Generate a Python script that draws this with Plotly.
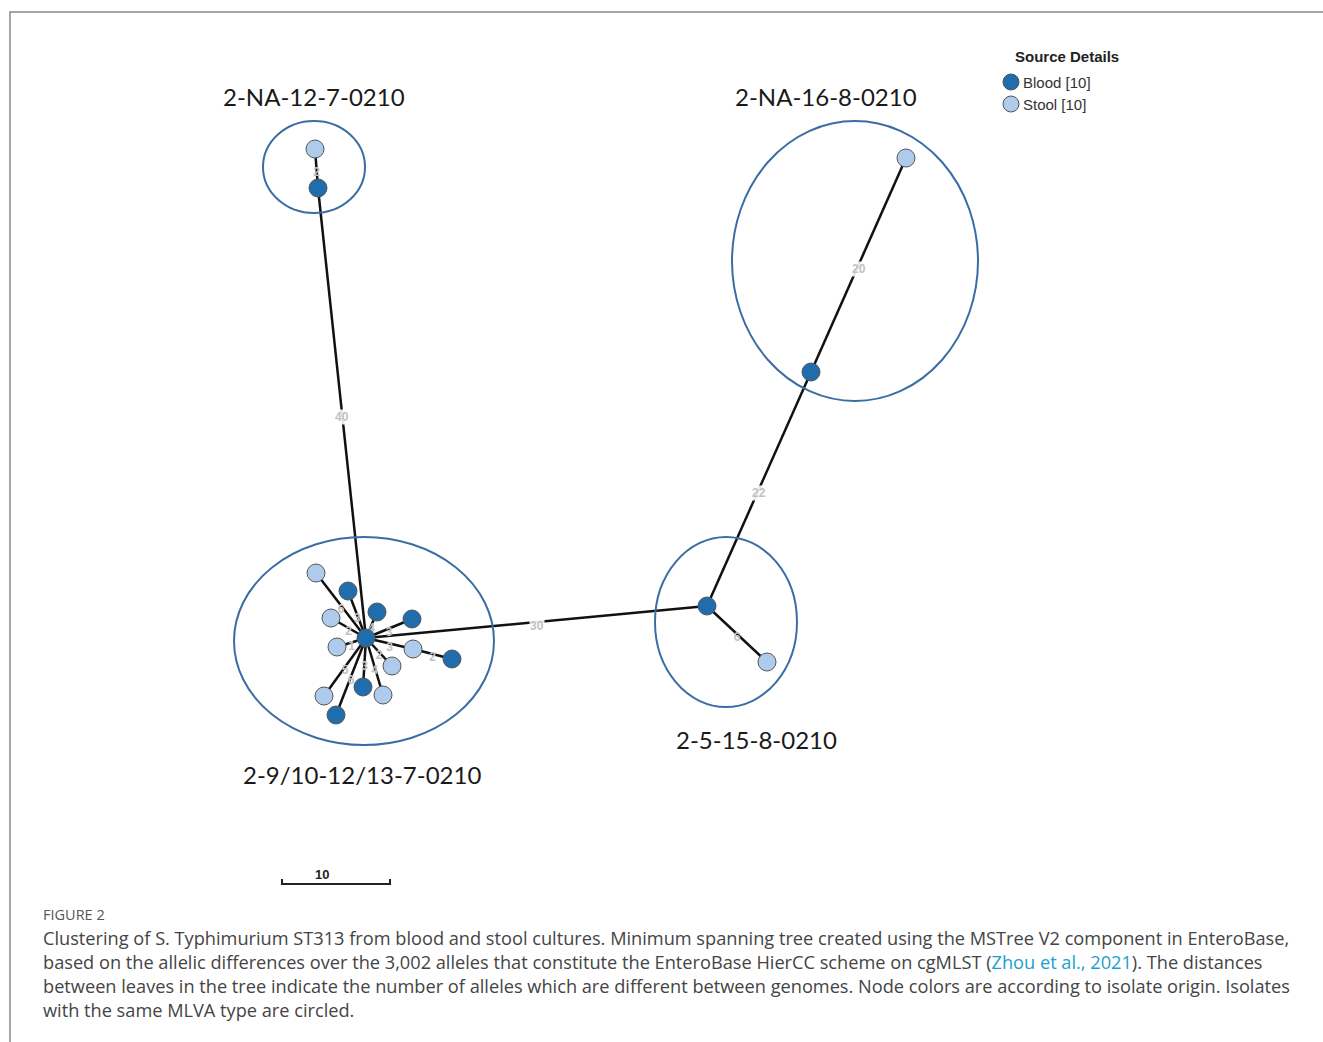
import plotly.graph_objects as go

# ---- data ----
node_x = [366, 316, 348, 331, 377, 412, 337, 413, 452, 392, 363, 383, 324, 336,
          318, 315, 811, 906, 707, 767]
node_y = [638, 573, 591, 618, 612, 619, 647, 649, 659, 666, 687, 695, 696, 715,
          188, 149, 372, 158, 606, 662]
node_src = ["Blood", "Stool", "Blood", "Stool", "Blood", "Blood", "Stool", "Stool", "Blood", "Stool",
            "Blood", "Stool", "Stool", "Blood",
            "Blood", "Stool", "Blood", "Stool", "Blood", "Stool"]
edge_from = [0, 0, 0, 0, 0, 0, 0, 7, 0, 0, 0, 0, 0, 14, 0, 16, 18, 18, 0]
edge_to = [1, 2, 3, 4, 5, 6, 7, 8, 9, 10, 11, 12, 13, 15, 14, 17, 16, 19, 18]
edge_w = [6, 3, 2, 4, 3, 1, 3, 2, 2, 3, 4, 5, 6, 2, 40, 20, 22, 6, 30]

cluster_names = ["2-NA-12-7-0210", "2-NA-16-8-0210", "2-9/10-12/13-7-0210", "2-5-15-8-0210"]
cluster_box = [(263, 121, 365, 213), (732, 121, 978, 401), (234, 537, 494, 745), (655, 537, 797, 707)]
cluster_label_xy = [(314, 96), (826, 96), (362, 774), (756, 739)]

sources = ["Blood", "Stool"]
colors = {"Blood": "#1f6dac", "Stool": "#afcbeb"}

caption_lines = [
    "Clustering of S. Typhimurium ST313 from blood and stool cultures. Minimum spanning tree created using the MSTree V2 component in EnteroBase,",
    "based on the allelic differences over the 3,002 alleles that constitute the EnteroBase HierCC scheme on cgMLST (<span style='color:#1a9fd0'>Zhou et al., 2021</span>). The distances",
    "between leaves in the tree indicate the number of alleles which are different between genomes. Node colors are according to isolate origin. Isolates",
    "with the same MLVA type are circled.",
]

fig = go.Figure()

# edges
ex, ey = [], []
for a, b in zip(edge_from, edge_to):
    ex += [node_x[a], node_x[b], None]
    ey += [node_y[a], node_y[b], None]
fig.add_trace(go.Scatter(x=ex, y=ey, mode="lines", line=dict(color="#111", width=2.5),
                         hoverinfo="skip", showlegend=False))

# edge labels: short edges as text trace (under nodes), long edges with white background
sx, sy, st = [], [], []
for a, b, w in zip(edge_from, edge_to, edge_w):
    mx = (node_x[a] + node_x[b]) / 2
    my = (node_y[a] + node_y[b]) / 2 + 4
    if w >= 10:
        fig.add_annotation(x=mx, y=my, text=f"<b>{w}</b>", showarrow=False,
                           font=dict(family="Liberation Sans", size=12, color="#c2c2c2"),
                           bgcolor="rgba(255,255,255,0.9)", borderpad=0)
    else:
        sx.append(mx); sy.append(my); st.append(f"<b>{w}</b>")
fig.add_trace(go.Scatter(x=sx, y=sy, text=st, mode="text", textposition="middle center",
                         textfont=dict(family="Liberation Sans", size=12, color="#c2c2c2"),
                         hoverinfo="skip", showlegend=False))

# nodes
for s in sources:
    idx = [i for i, v in enumerate(node_src) if v == s]
    fig.add_trace(go.Scatter(x=[node_x[i] for i in idx], y=[node_y[i] for i in idx], mode="markers",
                             marker=dict(size=18, color=colors[s], line=dict(color="#555", width=1)),
                             showlegend=False, hoverinfo="skip"))

# cluster ellipses and labels
for (x0, y0, x1, y1), name, (lx, ly) in zip(cluster_box, cluster_names, cluster_label_xy):
    fig.add_shape(type="circle", x0=x0, y0=y0, x1=x1, y1=y1, xref="x", yref="y",
                  line=dict(color="#3a6da3", width=2))
    fig.add_annotation(x=lx, y=ly, text=name, showarrow=False,
                       font=dict(family="Lato", size=24, color="#1a1a1a"))

# legend (manual)
fig.add_annotation(x=1067, y=56, text="<b>Source Details</b>", showarrow=False,
                   font=dict(family="Liberation Sans", size=15, color="#222"))
leg_y = [82, 104]
fig.add_trace(go.Scatter(x=[1011, 1011], y=leg_y, mode="markers",
                         marker=dict(size=16, color=[colors[s] for s in sources], line=dict(color="#555", width=1)),
                         showlegend=False, hoverinfo="skip"))
for s, yy in zip(sources, leg_y):
    n = node_src.count(s)
    fig.add_annotation(x=1021, y=yy, text=f"{s} [{n}]", showarrow=False, xanchor="left",
                       font=dict(family="Liberation Sans", size=15, color="#333"))

# scale bar
fig.add_shape(type="path", path="M 282 879 L 282 884 L 390 884 L 390 879", line=dict(color="#222", width=2))
fig.add_annotation(x=322, y=874, text="<b>10</b>", showarrow=False,
                   font=dict(family="Liberation Sans", size=13, color="#222"))

# frame
fig.add_shape(type="path", path="M 10 1042 L 10 12 L 1323 12", line=dict(color="#888", width=1.5))

# caption
fig.add_annotation(x=41, y=914, text="FIGURE 2", showarrow=False, xanchor="left",
                   font=dict(family="Open Sans", size=14.5, color="#555"))
for i, line in enumerate(caption_lines):
    fig.add_annotation(x=41, y=938 + 24 * i, text=line, showarrow=False, xanchor="left",
                       font=dict(family="Open Sans", size=18.2, color="#444"))

fig.update_layout(width=1323, height=1042, margin=dict(l=0, r=0, t=0, b=0),
                  plot_bgcolor="white", paper_bgcolor="white",
                  xaxis=dict(range=[0, 1323], visible=False, fixedrange=True),
                  yaxis=dict(range=[1042, 0], visible=False, fixedrange=True))
fig.write_html("out.html")
